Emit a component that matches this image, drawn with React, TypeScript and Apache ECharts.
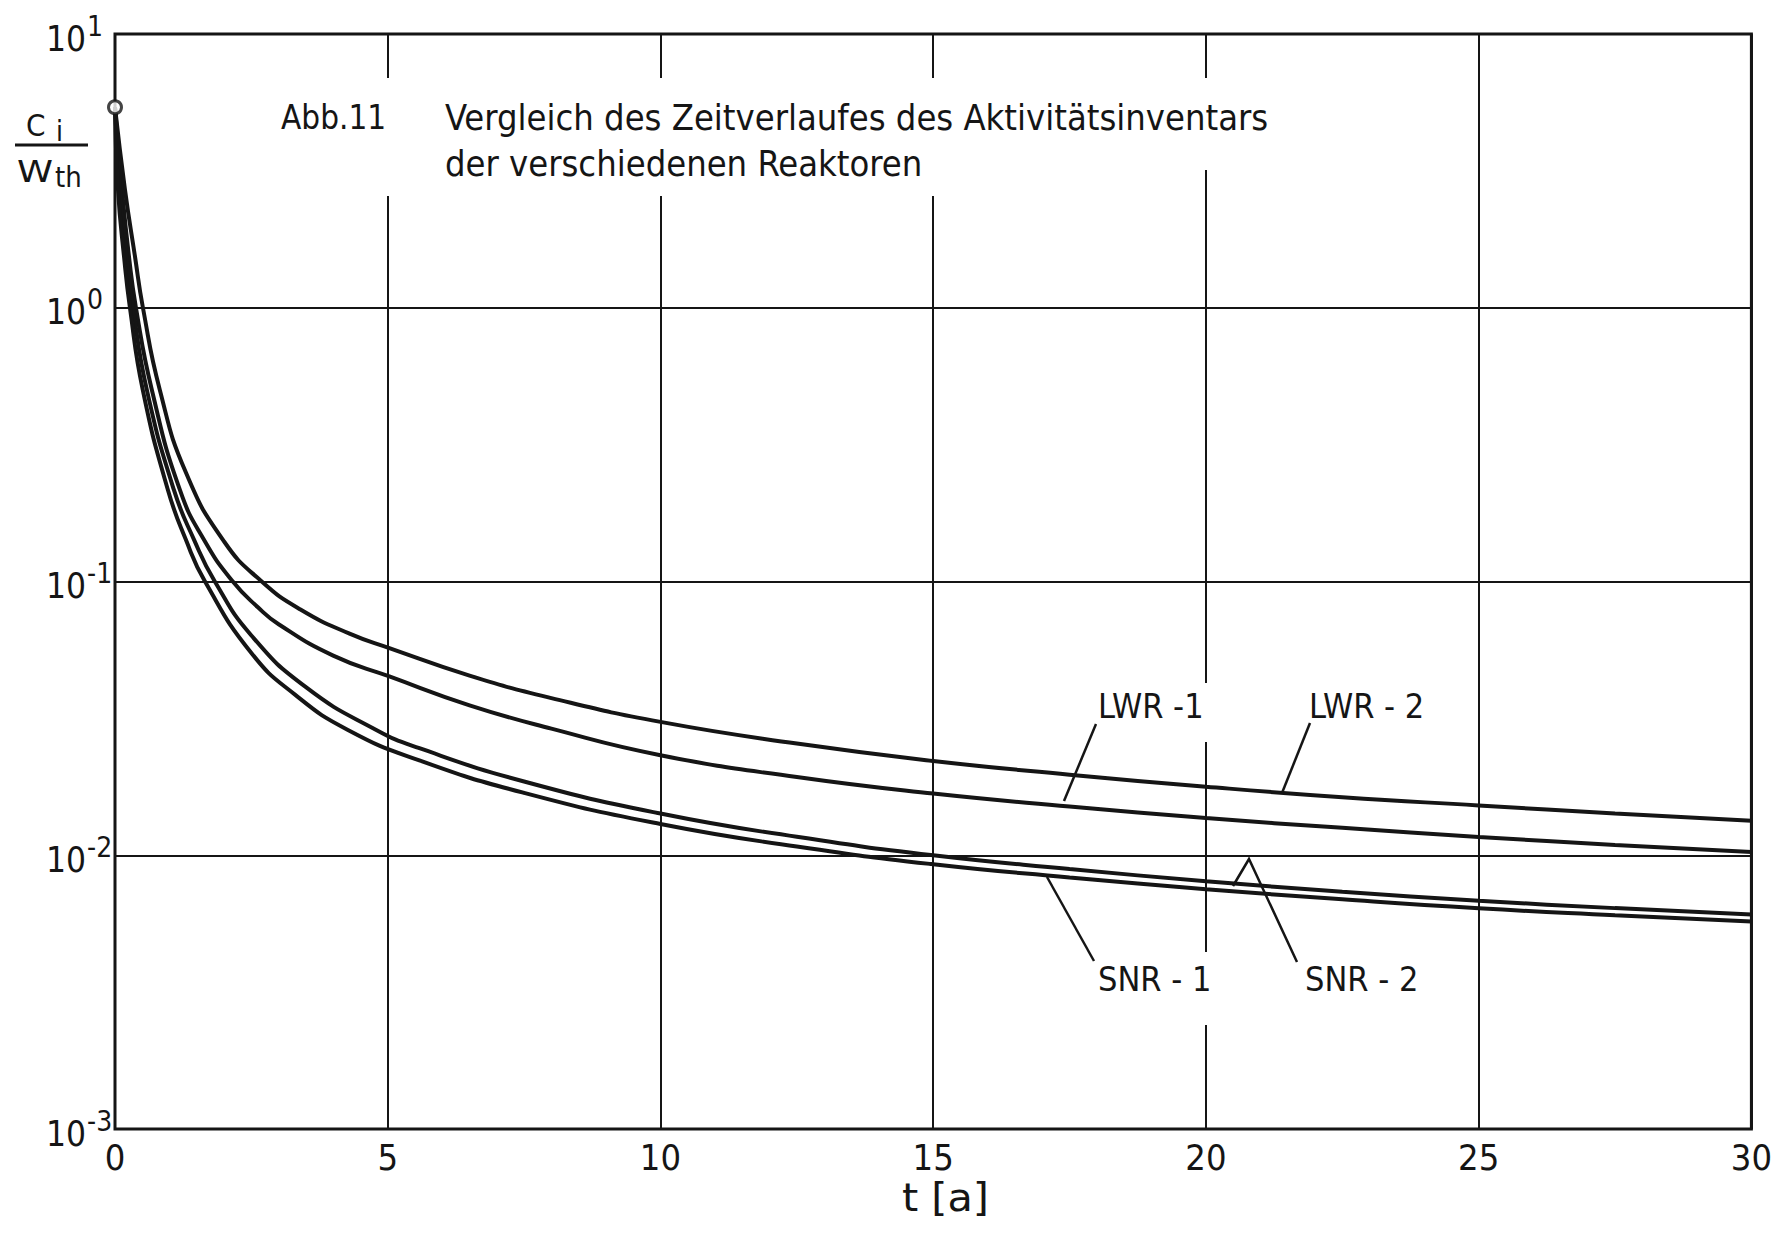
import React, { useEffect, useRef } from 'react';
import * as echarts from 'echarts';

// Decay of the activity inventory per thermal power, Ci / W_th, over time t [a]
const FONT = '"DejaVu Sans Condensed", "DejaVu Sans", sans-serif';
const INK = '#151515';

// LWR-1
const lwr1Years = [0, 0.128, 0.256, 0.384, 0.677, 1.19, 1.65, 2.16, 2.62, 3.0, 4.0, 5.03, 6.5, 8, 10, 12.5, 15, 17.5, 20, 22.5, 25, 27.5, 30];
const lwr1Activity = [5.4, 2.7, 1.54, 1.0, 0.5, 0.216, 0.14, 0.1, 0.0805, 0.0698, 0.0536, 0.045, 0.0353, 0.029, 0.0232, 0.0193, 0.0168, 0.01507, 0.01368, 0.01259, 0.01167, 0.01091, 0.01027];

// LWR-2
const lwr2Years = [0, 0.183, 0.366, 0.512, 0.823, 1.3, 2.0, 2.69, 3.4, 4.3, 5.03, 6.5, 8, 10, 12.5, 15, 17.5, 20, 22.5, 25, 27.5, 30];
const lwr2Activity = [5.4, 2.7, 1.54, 1.0, 0.5, 0.25, 0.14, 0.1, 0.079, 0.0645, 0.0571, 0.0453, 0.0375, 0.0307, 0.0256, 0.0221, 0.0197, 0.0178, 0.0163, 0.0152, 0.0142, 0.01336];

// SNR-1
const snr1Years = [0, 0.055, 0.165, 0.274, 0.51, 0.97, 1.3, 1.65, 2.5, 3.3, 4.27, 5.58, 7.5, 10, 12.5, 15, 17.5, 20, 22.5, 25, 27.5, 30];
const snr1Activity = [5.4, 2.7, 1.54, 1.0, 0.5, 0.216, 0.142, 0.1, 0.0548, 0.0386, 0.0287, 0.0222, 0.0169, 0.013, 0.01076, 0.00927, 0.0083, 0.00752, 0.0069, 0.0064, 0.00604, 0.00573];

// SNR-2
const snr2Years = [0, 0.091, 0.21, 0.33, 0.585, 1.08, 1.45, 1.83, 2.5, 3.5, 4.79, 5.58, 7.5, 10, 12.5, 15, 17.5, 20, 22.5, 25, 27.5, 30];
const snr2Activity = [5.4, 2.7, 1.54, 1.0, 0.5, 0.216, 0.142, 0.1, 0.0635, 0.0411, 0.0287, 0.0246, 0.0186, 0.0142, 0.01168, 0.01, 0.00891, 0.00804, 0.00736, 0.00682, 0.00641, 0.00607];

// common starting value at t = 0
const startPoint = [[0, 5.4]];

const pairs = (xs: number[], ys: number[]) => xs.map((x, i) => [x, ys[i]]);

const curve = (name: string, data: number[][]) => ({
  name,
  type: 'line',
  data,
  showSymbol: false,
  smooth: 0.5,
  lineStyle: { color: INK, width: 4 },
  z: 2,
});

const txt = (text: string, x: number, y: number, size: number, extra: Record<string, unknown> = {}) => ({
  type: 'text',
  x,
  y,
  z: 5,
  ...extra,
  style: {
    text,
    fill: INK,
    fontSize: size,
    fontFamily: FONT,
    align: 'left',
    verticalAlign: 'middle',
  },
});

const seg = (x1: number, y1: number, x2: number, y2: number) => ({
  type: 'line',
  z: 5,
  shape: { x1, y1, x2, y2 },
  style: { stroke: INK, lineWidth: 2.5 },
});

const blank = (x: number, y: number, width: number, height: number) => ({
  type: 'rect',
  z: 1,
  shape: { x, y, width, height },
  style: { fill: '#ffffff' },
});

export default function App() {
  const ref = useRef<HTMLDivElement>(null);

  useEffect(() => {
    if (!ref.current) return;
    const chart = echarts.init(ref.current, null, { renderer: 'svg' });
    chart.setOption({
      animation: false,
      backgroundColor: '#ffffff',
      grid: {
        left: 115,
        top: 34,
        width: 1640,
        height: 1095,
        show: true,
        borderColor: INK,
        borderWidth: 3,
        backgroundColor: 'transparent',
      },
      xAxis: {
        type: 'value',
        min: 0,
        max: 30,
        interval: 5,
        axisLine: { show: false },
        axisTick: { show: false },
        splitLine: { show: true, lineStyle: { color: INK, width: 2 } },
        axisLabel: {
          color: INK,
          fontSize: 36,
          fontFamily: FONT,
          margin: 10,
        },
      },
      yAxis: {
        type: 'log',
        logBase: 10,
        min: 0.001,
        max: 10,
        axisLine: { show: false },
        axisTick: { show: false },
        splitLine: { show: true, lineStyle: { color: INK, width: 2 } },
        axisLabel: {
          align: 'left',
          margin: 69,
          formatter: (v: number) => `{b|10}{e|${Math.round(Math.log10(v))}}`,
          rich: {
            b: { fontSize: 35, fontFamily: FONT, color: INK, verticalAlign: 'bottom' },
            e: { fontSize: 28, fontFamily: FONT, color: INK, verticalAlign: 'bottom', padding: [0, 0, 16, 1] },
          },
        },
      },
      series: [
        curve('LWR-2', pairs(lwr2Years, lwr2Activity)),
        curve('LWR-1', pairs(lwr1Years, lwr1Activity)),
        curve('SNR-2', pairs(snr2Years, snr2Activity)),
        curve('SNR-1', pairs(snr1Years, snr1Activity)),
        {
          name: 'Start',
          type: 'scatter',
          data: startPoint,
          symbol: 'circle',
          symbolSize: 13,
          itemStyle: { color: '#ffffff', borderColor: INK, borderWidth: 3 },
          z: 4,
        },
      ],
      graphic: [
        // breaks in the grid behind the caption and the curve labels
        blank(268, 78, 1030, 92),
        blank(268, 170, 670, 26),
        blank(1196, 683, 22, 59),
        blank(1196, 952, 22, 73),
        // caption
        txt('Abb.11', 281, 117, 33),
        txt('Vergleich des Zeitverlaufes des Aktivitätsinventars', 445, 117, 36),
        txt('der verschiedenen Reaktoren', 445, 163, 36),
        // y-axis quantity Ci / Wth
        txt('C', 26, 125, 31),
        txt('i', 56, 131, 28),
        { type: 'line', z: 5, shape: { x1: 15, y1: 145, x2: 88, y2: 145 }, style: { stroke: INK, lineWidth: 3 } },
        txt('W', 17, 171, 30, { scaleX: 1.35 }),
        txt('th', 55, 177, 29),
        // x-axis quantity
        txt('t [a]', 902, 1197, 39, { scaleX: 1.18 }),
        // curve labels with leader lines
        txt('LWR -1', 1098, 706, 34),
        txt('LWR - 2', 1309, 706, 34),
        txt('SNR - 1', 1098, 979, 34),
        txt('SNR - 2', 1305, 979, 34),
        seg(1096, 724, 1064, 801),
        seg(1310, 723, 1282, 793),
        seg(1047, 877, 1094, 961),
        {
          type: 'polyline',
          z: 5,
          shape: { points: [[1233, 886], [1249, 859], [1297, 962]] },
          style: { stroke: INK, lineWidth: 2.5, fill: 'none' },
        },
      ],
    });
    return () => chart.dispose();
  }, []);

  return (
    <div
      ref={ref}
      style={{ position: 'fixed', left: 0, top: 0, width: 1775, height: 1240, background: '#ffffff' }}
    />
  );
}
